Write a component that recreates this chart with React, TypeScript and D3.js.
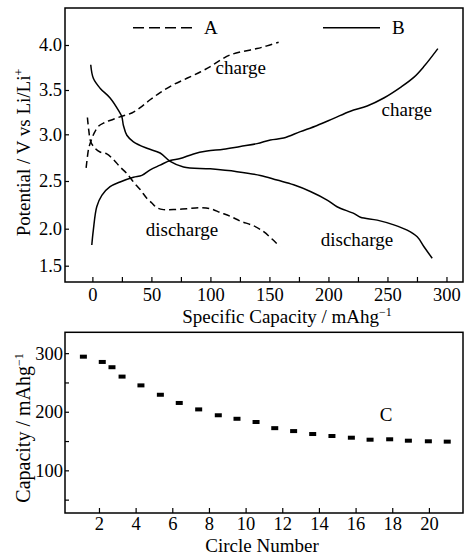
import React, { useEffect, useRef } from "react";
import * as d3 from "d3";

// [specific capacity (mAh/g), potential (V)]
const chargeA = [
  [-5.3, 2.64], [-4.2, 2.76], [-3.1, 2.85], [-1.4, 2.92], [1.4, 3.01], [5.1, 3.09],
  [9.9, 3.13], [17.8, 3.17], [26.3, 3.21], [33.4, 3.24], [40.5, 3.3], [48.9, 3.39],
  [57.4, 3.47], [68.7, 3.56], [80.1, 3.63], [91.4, 3.7], [99.9, 3.76], [108.3, 3.83],
  [116.8, 3.89], [128.1, 3.93], [139.4, 3.96], [147.9, 3.99], [157.8, 4.03],
];
const dischargeA = [
  [-4.2, 3.19], [-3.1, 3.05], [-1.4, 2.92], [2.3, 2.85], [6.5, 2.81], [12.2, 2.79],
  [17.8, 2.73], [23.5, 2.65], [29.2, 2.58], [34.8, 2.49], [40.5, 2.41], [46.1, 2.32],
  [50.4, 2.27], [54.6, 2.22], [60.2, 2.2], [68.7, 2.2], [80.1, 2.21], [91.4, 2.22],
  [99.9, 2.21], [108.3, 2.17], [116.8, 2.13], [125.3, 2.08], [136.6, 2.03],
  [145.1, 1.96], [152.2, 1.86], [158.7, 1.76],
];
const chargeB = [
  [-0.5, 1.78], [0.8, 1.98], [3.7, 2.23], [8.0, 2.35], [15.0, 2.44], [23.5, 2.49],
  [34.8, 2.54], [41.9, 2.56], [49.0, 2.62], [57.4, 2.67], [65.9, 2.72], [74.4, 2.74],
  [85.7, 2.79], [97.1, 2.82], [111.1, 2.84], [125.3, 2.87], [139.5, 2.9], [150.8, 2.94],
  [162.0, 2.96], [176.2, 3.03], [190.4, 3.1], [204.5, 3.18], [218.6, 3.26], [232.8, 3.32],
  [246.9, 3.41], [261.1, 3.53], [272.3, 3.64], [280.8, 3.76], [292.7, 3.96],
];
const dischargeB = [
  [-1.4, 3.78], [0.8, 3.63], [6.5, 3.52], [15.0, 3.41], [22.1, 3.27], [24.9, 3.2],
  [26.3, 3.1], [29.2, 2.99], [34.8, 2.92], [46.2, 2.85], [57.4, 2.8], [65.9, 2.71],
  [77.2, 2.65], [99.9, 2.63], [122.5, 2.6], [142.3, 2.56], [156.4, 2.51], [170.5, 2.46],
  [184.7, 2.39], [198.9, 2.3], [207.3, 2.23], [221.4, 2.16], [227.1, 2.12], [241.3, 2.09],
  [255.4, 2.04], [266.7, 1.98], [275.2, 1.89], [280.8, 1.76], [287.9, 1.6],
];

// cycling (C)
const cycleNo = [
  1.15, 2.18, 2.71, 3.26, 4.29, 5.35, 6.38, 7.44, 8.51, 9.53, 10.57,
  11.59, 12.62, 13.66, 14.71, 15.77, 16.79, 17.86, 18.88, 19.97, 21.0,
];
const cycleCap = [
  294, 285, 276, 260, 245, 229, 215, 204, 194, 188, 182.5,
  172, 167, 162, 158.6, 155.7, 152.3, 153, 150.6, 149.6, 149,
];

const capTicks = [0, 50, 100, 150, 200, 250, 300];
const potTicks = [4.0, 3.5, 3.0, 2.5, 2.0, 1.5];
const cycleTicks = [2, 4, 6, 8, 10, 12, 14, 16, 18, 20];
const cycCapTicks = [100, 200, 300];

const FONT = "'Liberation Serif', 'Times New Roman', serif";

const App = () => {
  const svgRef = useRef<SVGSVGElement>(null);

  useEffect(() => {
    const svg = d3.select(svgRef.current);
    svg.selectAll("*").remove();
    svg.attr("font-family", FONT).attr("font-size", 19);

    // ---------- top panel ----------
    const t = { left: 65, right: 463, top: 8, bottom: 282 };
    const x = d3.scaleLinear().domain([-23.2, 314]).range([t.left, t.right]);
    // the printed potential axis is unevenly spaced, so pin each tick where it sits
    const y = d3
      .scaleLinear()
      .domain([4.41, 4.0, 3.5, 3.0, 2.5, 2.0, 1.5, 1.28])
      .range([t.top, 45, 90, 134.3, 181, 228.7, 265.7, t.bottom]);

    const xAx = svg
      .append("g")
      .attr("transform", `translate(0,${t.bottom})`)
      .call(
        d3
          .axisBottom(x)
          .tickValues(d3.range(0, 301, 25))
          .tickSizeInner(-5)
          .tickSizeOuter(0)
          .tickPadding(6)
          .tickFormat((d) => (capTicks.includes(+d) ? String(d) : ""))
      );
    const yAx = svg
      .append("g")
      .attr("transform", `translate(${t.left},0)`)
      .call(
        d3
          .axisLeft(y)
          .tickValues(potTicks)
          .tickSizeInner(-4)
          .tickSizeOuter(0)
          .tickPadding(3)
          .tickFormat(d3.format(".1f"))
      );

    const line = d3
      .line<number[]>()
      .x((d) => x(d[0]))
      .y((d) => y(d[1]))
      .curve(d3.curveCatmullRom.alpha(0.5));

    const curves = [
      { data: chargeA, dash: "7,4" },
      { data: dischargeA, dash: "7,4" },
      { data: chargeB, dash: null },
      { data: dischargeB, dash: null },
    ];
    svg
      .append("g")
      .selectAll("path")
      .data(curves)
      .enter()
      .append("path")
      .attr("d", (d) => line(d.data))
      .attr("fill", "none")
      .attr("stroke", "#000")
      .attr("stroke-width", 1.5)
      .attr("stroke-dasharray", (d) => d.dash);

    svg
      .append("rect")
      .attr("x", t.left)
      .attr("y", t.top)
      .attr("width", t.right - t.left)
      .attr("height", t.bottom - t.top)
      .attr("fill", "none")
      .attr("stroke", "#000")
      .attr("stroke-width", 1.5);

    // legend
    svg.append("line").attr("x1", 133).attr("x2", 193).attr("y1", 27.7).attr("y2", 27.7)
      .attr("stroke", "#000").attr("stroke-width", 1.5).attr("stroke-dasharray", "11,5");
    svg.append("text").attr("x", 204).attr("y", 34).text("A");
    svg.append("line").attr("x1", 323).attr("x2", 380).attr("y1", 27.7).attr("y2", 27.7)
      .attr("stroke", "#000").attr("stroke-width", 1.5);
    svg.append("text").attr("x", 392).attr("y", 34).text("B");

    const labels = [
      { text: "charge", x: 240.7, y: 74 },
      { text: "charge", x: 406.7, y: 116 },
      { text: "discharge", x: 182, y: 236 },
      { text: "discharge", x: 357, y: 246 },
      { text: "C", x: 386, y: 421 },
    ];
    svg
      .append("g")
      .selectAll("text")
      .data(labels)
      .enter()
      .append("text")
      .attr("x", (d) => d.x)
      .attr("y", (d) => d.y)
      .attr("text-anchor", "middle")
      .text((d) => d.text);

    // axis titles
    const xt = svg.append("text").attr("x", 287).attr("y", 323).attr("text-anchor", "middle");
    xt.append("tspan").text("Specific Capacity / mAhg");
    xt.append("tspan").attr("dy", -7).attr("font-size", 12).text("\u22121");

    const yt = svg
      .append("text")
      .attr("transform", "translate(30,152.5) rotate(-90)")
      .attr("text-anchor", "middle");
    yt.append("tspan").text("Potential / V vs Li/Li");
    yt.append("tspan").attr("dy", -7).attr("font-size", 12).text("+");

    // ---------- bottom panel ----------
    const b = { left: 65, right: 463, top: 332.3, bottom: 513 };
    const x2 = d3.scaleLinear().domain([0.147, 21.86]).range([b.left, b.right]);
    const y2 = d3.scaleLinear().domain([27.2, 335.6]).range([b.bottom, b.top]);

    const xAx2 = svg
      .append("g")
      .attr("transform", `translate(0,${b.bottom})`)
      .call(
        d3
          .axisBottom(x2)
          .tickValues(cycleTicks)
          .tickSizeInner(-5)
          .tickSizeOuter(0)
          .tickPadding(4)
      );
    const yAx2 = svg
      .append("g")
      .attr("transform", `translate(${b.left},0)`)
      .call(
        d3
          .axisLeft(y2)
          .tickValues(d3.range(50, 301, 50))
          .tickSizeInner(-4)
          .tickSizeOuter(0)
          .tickPadding(2)
          .tickFormat((d) => (cycCapTicks.includes(+d) ? String(d) : ""))
      );

    svg
      .append("g")
      .selectAll("rect")
      .data(cycleNo.map((n, i) => ({ n, c: cycleCap[i] })))
      .enter()
      .append("rect")
      .attr("x", (d) => x2(d.n) - 3.5)
      .attr("y", (d) => y2(d.c) - 2)
      .attr("width", 7)
      .attr("height", 4)
      .attr("fill", "#000");

    svg
      .append("rect")
      .attr("x", b.left)
      .attr("y", b.top)
      .attr("width", b.right - b.left)
      .attr("height", b.bottom - b.top)
      .attr("fill", "none")
      .attr("stroke", "#000")
      .attr("stroke-width", 1.5);

    svg.append("text").attr("x", 262).attr("y", 552).attr("text-anchor", "middle").text("Circle Number");

    const yt2 = svg
      .append("text")
      .attr("transform", "translate(30,428) rotate(-90)")
      .attr("text-anchor", "middle")
      .attr("font-size", 20);
    yt2.append("tspan").text("Capacity / mAhg");
    yt2.append("tspan").attr("dy", -7).attr("font-size", 12).text("\u22121");

    // shared axis styling
    [xAx, yAx, xAx2, yAx2].forEach((g) => {
      g.select(".domain").remove();
      g.selectAll("line").attr("stroke", "#000").attr("stroke-width", 1.2);
      g.selectAll("text")
        .attr("font-family", FONT)
        .attr("font-size", 18.5)
        .attr("fill", "#000");
    });
  }, []);

  return (
    <svg
      ref={svgRef}
      width={465}
      height={555}
      style={{ position: "absolute", left: 0, top: 0, background: "#fff" }}
    />
  );
};

export default App;
